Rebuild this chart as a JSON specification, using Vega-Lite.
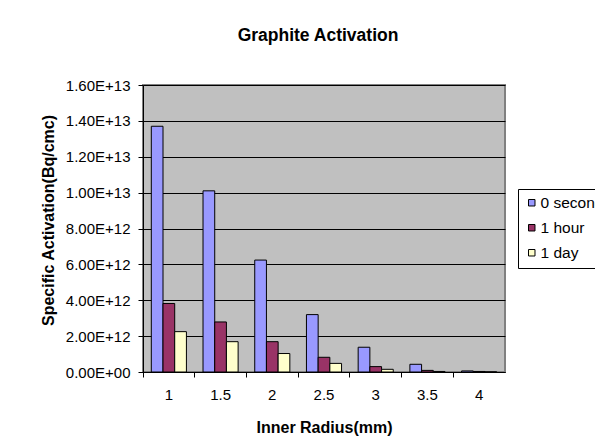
{
  "$schema": "https://vega.github.io/schema/vega-lite/v6.json",
  "width": 362,
  "height": 287,
  "autosize": {"type": "none"},
  "padding": {"left": 143, "top": 85, "right": 90, "bottom": 75},
  "background": "white",
  "title": {
    "text": "Graphite Activation",
    "fontSize": 17.5,
    "fontWeight": "bold",
    "font": "Liberation Sans",
    "color": "black",
    "dx": -6,
    "offset": 20,
    "baseline": "alphabetic"
  },
  "data": {
    "values": [
      {"r": "1", "s": "0 seconds", "v": 1.37e13},
      {"r": "1", "s": "1 hour", "v": 3.82e12},
      {"r": "1", "s": "1 day", "v": 2.25e12},
      {"r": "1.5", "s": "0 seconds", "v": 1.01e13},
      {"r": "1.5", "s": "1 hour", "v": 2.79e12},
      {"r": "1.5", "s": "1 day", "v": 1.69e12},
      {"r": "2", "s": "0 seconds", "v": 6.24e12},
      {"r": "2", "s": "1 hour", "v": 1.69e12},
      {"r": "2", "s": "1 day", "v": 1.03e12},
      {"r": "2.5", "s": "0 seconds", "v": 3.2e12},
      {"r": "2.5", "s": "1 hour", "v": 8.2e11},
      {"r": "2.5", "s": "1 day", "v": 4.8e11},
      {"r": "3", "s": "0 seconds", "v": 1.38e12},
      {"r": "3", "s": "1 hour", "v": 3.0e11},
      {"r": "3", "s": "1 day", "v": 1.5e11},
      {"r": "3.5", "s": "0 seconds", "v": 4.3e11},
      {"r": "3.5", "s": "1 hour", "v": 9e10},
      {"r": "3.5", "s": "1 day", "v": 3e10},
      {"r": "4", "s": "0 seconds", "v": 6e10},
      {"r": "4", "s": "1 hour", "v": 3e10},
      {"r": "4", "s": "1 day", "v": 1e10}
    ]
  },
  "mark": {"type": "bar", "stroke": "black", "strokeWidth": 1},
  "encoding": {
    "x": {
      "field": "r",
      "type": "nominal",
      "sort": null,
      "scale": {"paddingInner": 0, "paddingOuter": 0},
      "axis": {
        "title": "Inner Radius(mm)",
        "labelAngle": 0,
        "bandPosition": 0,
        "labelFontSize": 15,
        "labelPadding": 10,
        "labelColor": "black",
        "tickSize": 5,
        "tickColor": "black",
        "domainColor": "black",
        "titleFontSize": 16,
        "titleFontWeight": "bold",
        "titleColor": "black",
        "titleY": 55,
        "titleBaseline": "middle"
      }
    },
    "xOffset": {
      "field": "s",
      "type": "nominal",
      "scale": {"domain": ["0 seconds", "1 hour", "1 day"], "paddingInner": 0, "paddingOuter": 0.71}
    },
    "y": {
      "field": "v",
      "type": "quantitative",
      "scale": {"domain": [0, 1.6e13], "nice": false},
      "axis": {
        "title": "Specific Activation(Bq/cmc)",
        "values": [0, 2e12, 4e12, 6e12, 8e12, 1e13, 1.2e13, 1.4e13, 1.6e13],
        "labelExpr": "datum.value == 0 ? '0.00E+00' : replace(format(datum.value, '.2e'), 'e', 'E')",
        "labelFontSize": 15,
        "labelPadding": 8,
        "labelColor": "black",
        "tickSize": 5,
        "tickColor": "black",
        "domainColor": "black",
        "gridColor": "black",
        "gridOpacity": 1,
        "titleFontSize": 16,
        "titleFontWeight": "bold",
        "titleColor": "black",
        "titleX": -95,
        "titleY": 135,
        "titleAngle": -90,
        "titleAlign": "center",
        "titleBaseline": "middle"
      }
    },
    "color": {
      "field": "s",
      "type": "nominal",
      "scale": {"domain": ["0 seconds", "1 hour", "1 day"], "range": ["#9999FF", "#993366", "#FFFFCC"]},
      "legend": {
        "title": null,
        "orient": "none",
        "legendX": 375,
        "legendY": 104,
        "strokeColor": "black",
        "fillColor": "white",
        "padding": 6,
        "rowPadding": 8,
        "symbolType": "square",
        "symbolSize": 42,
        "symbolStrokeColor": "black",
        "symbolStrokeWidth": 1,
        "symbolOpacity": 1,
        "labelOffset": 1,
        "labelFontSize": 15.5,
        "labelColor": "black",
        "labelLimit": 300
      }
    }
  },
  "config": {
    "font": "Liberation Sans",
    "view": {"fill": "#C0C0C0", "stroke": "#808080", "strokeWidth": 2},
    "axis": {"labelFont": "Liberation Sans", "titleFont": "Liberation Sans"},
    "legend": {"labelFont": "Liberation Sans"}
  }
}
